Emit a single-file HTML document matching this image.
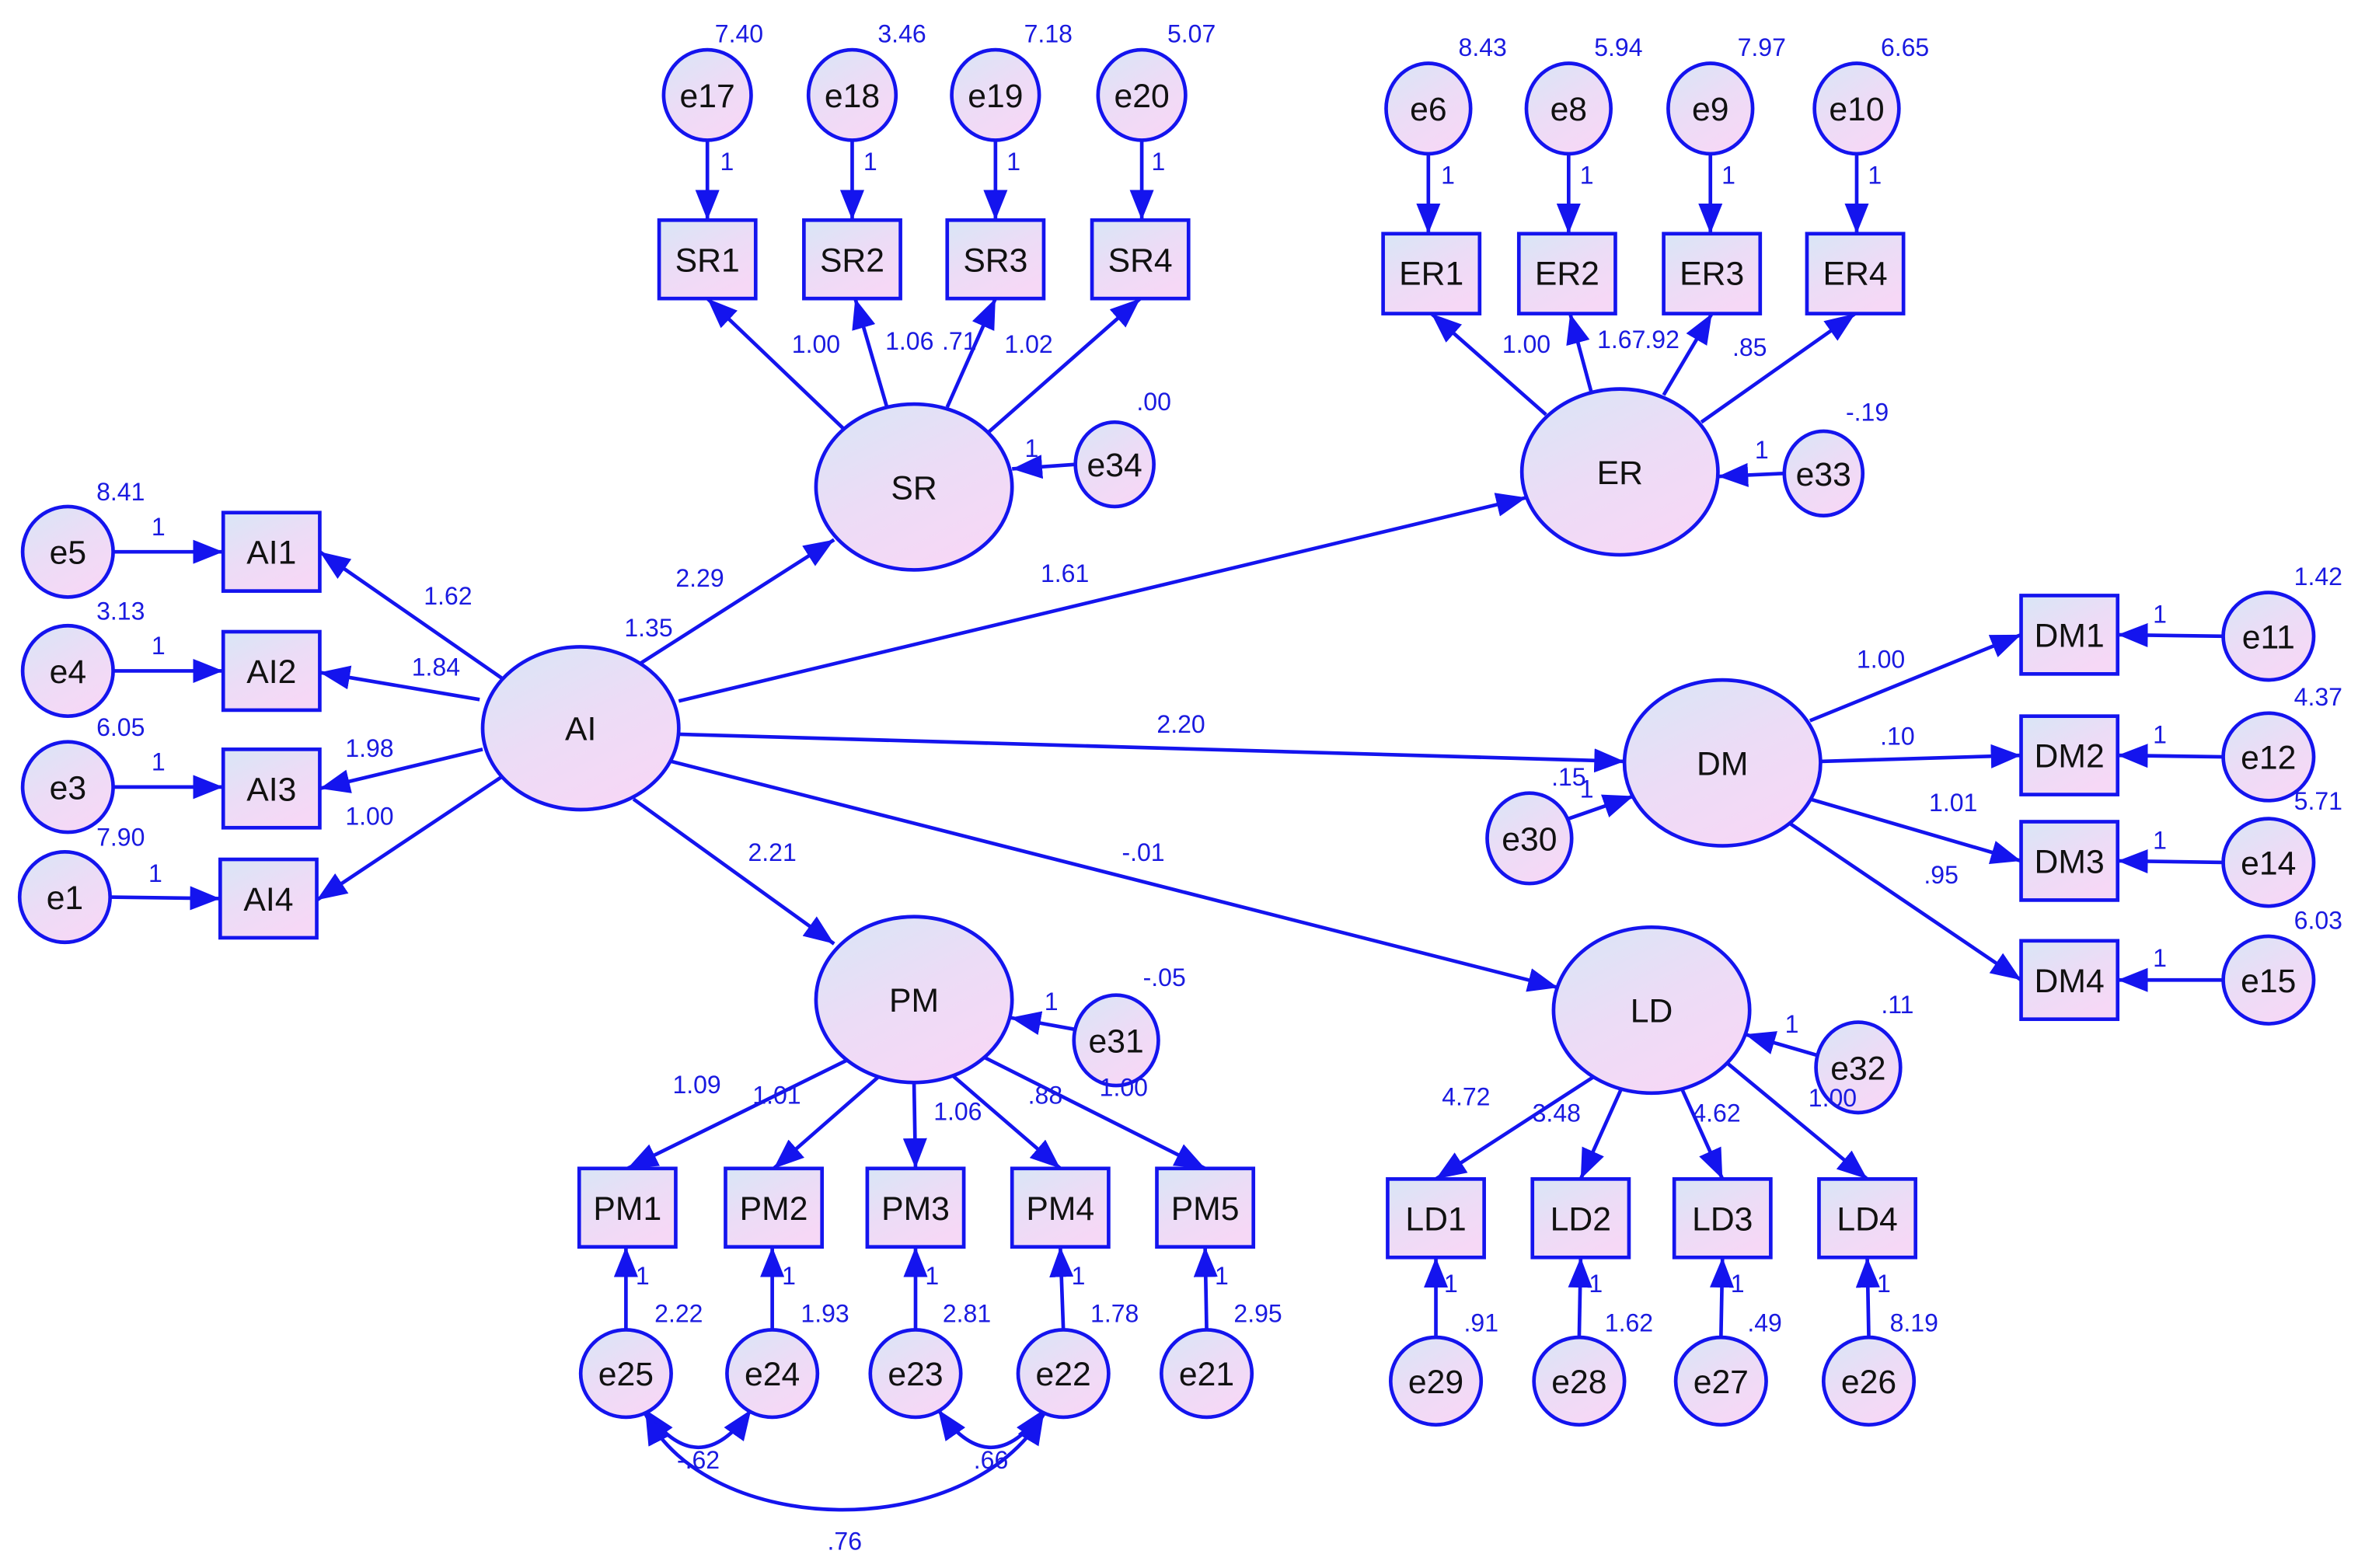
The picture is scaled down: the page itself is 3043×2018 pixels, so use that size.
<!DOCTYPE html>
<html><head><meta charset="utf-8">
<style>
html,body{margin:0;padding:0;background:#fff;}
svg{display:block;}
text{font-family:"Liberation Sans",Arial,sans-serif;}
.n{font-size:22px;fill:#111;text-anchor:middle;}
.v{font-size:16.5px;fill:#1a1ae0;text-anchor:middle;}
.e{stroke:#1414ee;stroke-width:2.4;fill:none;}
.s{stroke:#1414ee;stroke-width:2.4;fill:url(#g);}
</style></head>
<body>
<svg width="3043" height="2018" viewBox="0 0 1568 1040" preserveAspectRatio="none" xmlns="http://www.w3.org/2000/svg">
<defs>
<linearGradient id="g" x1="0" y1="0" x2="0.6" y2="1">
<stop offset="0" stop-color="#d8e6f6"/><stop offset="0.55" stop-color="#ecdcf6"/><stop offset="1" stop-color="#f6d8f6"/>
</linearGradient>
<marker id="a" viewBox="0 0 20 16" refX="20" refY="8" markerWidth="20" markerHeight="16" markerUnits="userSpaceOnUse" orient="auto-start-reverse">
<path d="M0,0 L20,8 L0,16 z" fill="#1414ee"/>
</marker>
</defs>

<!-- edges -->
<g class="e" marker-end="url(#a)">
<line x1="333" y1="450" x2="212" y2="366"/>
<line x1="318" y1="464" x2="212" y2="446"/>
<line x1="320" y1="497" x2="212" y2="523"/>
<line x1="333" y1="515" x2="210" y2="597"/>
<line x1="423" y1="441" x2="553" y2="358"/>
<line x1="450" y1="465" x2="1012" y2="330"/>
<line x1="450" y1="487" x2="1077" y2="505"/>
<line x1="420" y1="530" x2="553" y2="626"/>
<line x1="445" y1="505" x2="1033" y2="655"/>
<line x1="560" y1="285" x2="469" y2="198"/>
<line x1="588" y1="270" x2="567" y2="198"/>
<line x1="628" y1="270" x2="660" y2="198"/>
<line x1="655" y1="287" x2="756" y2="198"/>
<line x1="1025" y1="275" x2="949" y2="208"/>
<line x1="1055" y1="260" x2="1041" y2="208"/>
<line x1="1103" y1="262" x2="1135" y2="208"/>
<line x1="1128" y1="280" x2="1230" y2="208"/>
<line x1="1200" y1="478" x2="1340" y2="421"/>
<line x1="1207" y1="505" x2="1340" y2="501"/>
<line x1="1200" y1="530" x2="1340" y2="571"/>
<line x1="1185" y1="545" x2="1340" y2="650"/>
<line x1="568" y1="700" x2="416" y2="775"/>
<line x1="585" y1="712" x2="513" y2="775"/>
<line x1="606" y1="718" x2="607" y2="775"/>
<line x1="630" y1="712" x2="703" y2="775"/>
<line x1="650" y1="700" x2="799" y2="775"/>
<line x1="1060" y1="712" x2="952" y2="782"/>
<line x1="1075" y1="722" x2="1048" y2="782"/>
<line x1="1115" y1="722" x2="1142" y2="782"/>
<line x1="1145" y1="705" x2="1238" y2="782"/>
<!-- errors -->
<line x1="75" y1="366" x2="148" y2="366"/>
<line x1="75" y1="445" x2="148" y2="445"/>
<line x1="75" y1="522" x2="148" y2="522"/>
<line x1="73" y1="595" x2="146" y2="596"/>
<line x1="469" y1="93" x2="469" y2="146"/>
<line x1="565" y1="93" x2="565" y2="146"/>
<line x1="660" y1="93" x2="660" y2="146"/>
<line x1="757" y1="93" x2="757" y2="146"/>
<line x1="947" y1="102" x2="947" y2="155"/>
<line x1="1040" y1="102" x2="1040" y2="155"/>
<line x1="1134" y1="102" x2="1134" y2="155"/>
<line x1="1231" y1="102" x2="1231" y2="155"/>
<line x1="1474" y1="422" x2="1404" y2="421"/>
<line x1="1474" y1="502" x2="1404" y2="501"/>
<line x1="1474" y1="572" x2="1404" y2="571"/>
<line x1="1474" y1="650" x2="1404" y2="650"/>
<line x1="415" y1="882" x2="415" y2="827"/>
<line x1="512" y1="882" x2="512" y2="827"/>
<line x1="607" y1="882" x2="607" y2="827"/>
<line x1="705" y1="882" x2="703" y2="827"/>
<line x1="800" y1="882" x2="799" y2="827"/>
<line x1="952" y1="887" x2="952" y2="834"/>
<line x1="1047" y1="887" x2="1048" y2="834"/>
<line x1="1141" y1="887" x2="1142" y2="834"/>
<line x1="1239" y1="887" x2="1238" y2="834"/>
<line x1="713" y1="308" x2="671" y2="311"/>
<line x1="1183" y1="314" x2="1139" y2="316"/>
<line x1="1040" y1="543" x2="1083" y2="528"/>
<line x1="714" y1="683" x2="670" y2="675"/>
<line x1="1205" y1="700" x2="1157" y2="686"/>
</g>
<!-- covariances -->
<g class="e" marker-start="url(#a)" marker-end="url(#a)">
<path d="M428,935 Q463,985 498,935"/>
<path d="M622,935 Q657,985 692,935"/>
<path d="M428,938 C470,1020 640,1025 692,938"/>
</g>

<!-- latent ellipses -->
<g class="s">
<ellipse cx="385" cy="483" rx="65" ry="54"/>
<ellipse cx="606" cy="323" rx="65" ry="55"/>
<ellipse cx="1074" cy="313" rx="65" ry="55"/>
<ellipse cx="1142" cy="506" rx="65" ry="55"/>
<ellipse cx="606" cy="663" rx="65" ry="55"/>
<ellipse cx="1095" cy="670" rx="65" ry="55"/>
</g>
<!-- boxes -->
<g class="s">
<rect x="148" y="340" width="64" height="52"/>
<rect x="148" y="419" width="64" height="52"/>
<rect x="148" y="497" width="64" height="52"/>
<rect x="146" y="570" width="64" height="52"/>
<rect x="437" y="146" width="64" height="52"/>
<rect x="533" y="146" width="64" height="52"/>
<rect x="628" y="146" width="64" height="52"/>
<rect x="724" y="146" width="64" height="52"/>
<rect x="917" y="155" width="64" height="53"/>
<rect x="1007" y="155" width="64" height="53"/>
<rect x="1103" y="155" width="64" height="53"/>
<rect x="1198" y="155" width="64" height="53"/>
<rect x="1340" y="395" width="64" height="52"/>
<rect x="1340" y="475" width="64" height="52"/>
<rect x="1340" y="545" width="64" height="52"/>
<rect x="1340" y="624" width="64" height="52"/>
<rect x="384" y="775" width="64" height="52"/>
<rect x="481" y="775" width="64" height="52"/>
<rect x="575" y="775" width="64" height="52"/>
<rect x="671" y="775" width="64" height="52"/>
<rect x="767" y="775" width="64" height="52"/>
<rect x="920" y="782" width="64" height="52"/>
<rect x="1016" y="782" width="64" height="52"/>
<rect x="1110" y="782" width="64" height="52"/>
<rect x="1206" y="782" width="64" height="52"/>
</g>
<!-- error circles -->
<g class="s">
<ellipse cx="469" cy="63" rx="29" ry="30"/><ellipse cx="565" cy="63" rx="29" ry="30"/>
<ellipse cx="660" cy="63" rx="29" ry="30"/><ellipse cx="757" cy="63" rx="29" ry="30"/>
<ellipse cx="947" cy="72" rx="28" ry="30"/><ellipse cx="1040" cy="72" rx="28" ry="30"/>
<ellipse cx="1134" cy="72" rx="28" ry="30"/><ellipse cx="1231" cy="72" rx="28" ry="30"/>
<ellipse cx="45" cy="366" rx="30" ry="30"/><ellipse cx="45" cy="445" rx="30" ry="30"/>
<ellipse cx="45" cy="522" rx="30" ry="30"/><ellipse cx="43" cy="595" rx="30" ry="30"/>
<ellipse cx="739" cy="308" rx="26" ry="28"/><ellipse cx="1209" cy="314" rx="26" ry="28"/>
<ellipse cx="1014" cy="556" rx="28" ry="30"/><ellipse cx="740" cy="690" rx="28" ry="30"/>
<ellipse cx="1232" cy="708" rx="28" ry="30"/>
<ellipse cx="1504" cy="422" rx="30" ry="29"/><ellipse cx="1504" cy="502" rx="30" ry="29"/>
<ellipse cx="1504" cy="572" rx="30" ry="29"/><ellipse cx="1504" cy="650" rx="30" ry="29"/>
<ellipse cx="415" cy="911" rx="30" ry="29"/><ellipse cx="512" cy="911" rx="30" ry="29"/>
<ellipse cx="607" cy="911" rx="30" ry="29"/><ellipse cx="705" cy="911" rx="30" ry="29"/>
<ellipse cx="800" cy="911" rx="30" ry="29"/>
<ellipse cx="952" cy="916" rx="30" ry="29"/><ellipse cx="1047" cy="916" rx="30" ry="29"/>
<ellipse cx="1141" cy="916" rx="30" ry="29"/><ellipse cx="1239" cy="916" rx="30" ry="29"/>
</g>

<!-- node labels -->
<g class="n">
<text x="385" y="491">AI</text><text x="606" y="331">SR</text><text x="1074" y="321">ER</text>
<text x="1142" y="514">DM</text><text x="606" y="671">PM</text><text x="1095" y="678">LD</text>
<text x="180" y="374">AI1</text><text x="180" y="453">AI2</text><text x="180" y="531">AI3</text><text x="178" y="604">AI4</text>
<text x="469" y="180">SR1</text><text x="565" y="180">SR2</text><text x="660" y="180">SR3</text><text x="756" y="180">SR4</text>
<text x="949" y="189">ER1</text><text x="1039" y="189">ER2</text><text x="1135" y="189">ER3</text><text x="1230" y="189">ER4</text>
<text x="1372" y="429">DM1</text><text x="1372" y="509">DM2</text><text x="1372" y="579">DM3</text><text x="1372" y="658">DM4</text>
<text x="416" y="809">PM1</text><text x="513" y="809">PM2</text><text x="607" y="809">PM3</text><text x="703" y="809">PM4</text><text x="799" y="809">PM5</text>
<text x="952" y="816">LD1</text><text x="1048" y="816">LD2</text><text x="1142" y="816">LD3</text><text x="1238" y="816">LD4</text>
<text x="469" y="71">e17</text><text x="565" y="71">e18</text><text x="660" y="71">e19</text><text x="757" y="71">e20</text>
<text x="947" y="80">e6</text><text x="1040" y="80">e8</text><text x="1134" y="80">e9</text><text x="1231" y="80">e10</text>
<text x="45" y="374">e5</text><text x="45" y="453">e4</text><text x="45" y="530">e3</text><text x="43" y="603">e1</text>
<text x="739" y="316">e34</text><text x="1209" y="322">e33</text><text x="1014" y="564">e30</text>
<text x="740" y="698">e31</text><text x="1232" y="716">e32</text>
<text x="1504" y="430">e11</text><text x="1504" y="510">e12</text><text x="1504" y="580">e14</text><text x="1504" y="658">e15</text>
<text x="415" y="919">e25</text><text x="512" y="919">e24</text><text x="607" y="919">e23</text><text x="705" y="919">e22</text><text x="800" y="919">e21</text>
<text x="952" y="924">e29</text><text x="1047" y="924">e28</text><text x="1141" y="924">e27</text><text x="1239" y="924">e26</text>
</g>

<!-- values -->
<g class="v">
<text x="490" y="28">7.40</text><text x="598" y="28">3.46</text><text x="695" y="28">7.18</text><text x="790" y="28">5.07</text>
<text x="983" y="37">8.43</text><text x="1073" y="37">5.94</text><text x="1168" y="37">7.97</text><text x="1263" y="37">6.65</text>
<text x="80" y="332">8.41</text><text x="80" y="411">3.13</text><text x="80" y="488">6.05</text><text x="80" y="561">7.90</text>
<text x="765" y="272">.00</text><text x="1238" y="279">-.19</text>
<text x="1537" y="388">1.42</text><text x="1537" y="468">4.37</text><text x="1537" y="537">5.71</text><text x="1537" y="616">6.03</text>
<text x="1040" y="521">.15</text><text x="772" y="654">-.05</text><text x="1258" y="672">.11</text>
<text x="450" y="877">2.22</text><text x="547" y="877">1.93</text><text x="641" y="877">2.81</text><text x="739" y="877">1.78</text><text x="834" y="877">2.95</text>
<text x="982" y="883">.91</text><text x="1080" y="883">1.62</text><text x="1170" y="883">.49</text><text x="1269" y="883">8.19</text>
<!-- ones -->
<text x="105" y="355">1</text><text x="105" y="434">1</text><text x="105" y="511">1</text><text x="103" y="585">1</text>
<text x="482" y="113">1</text><text x="577" y="113">1</text><text x="672" y="113">1</text><text x="768" y="113">1</text>
<text x="960" y="122">1</text><text x="1052" y="122">1</text><text x="1146" y="122">1</text><text x="1243" y="122">1</text>
<text x="1432" y="413">1</text><text x="1432" y="493">1</text><text x="1432" y="563">1</text><text x="1432" y="641">1</text>
<text x="426" y="852">1</text><text x="523" y="852">1</text><text x="618" y="852">1</text><text x="715" y="852">1</text><text x="810" y="852">1</text>
<text x="962" y="857">1</text><text x="1058" y="857">1</text><text x="1152" y="857">1</text><text x="1249" y="857">1</text>
<text x="684" y="303">1</text><text x="1168" y="304">1</text><text x="1052" y="529">1</text><text x="697" y="670">1</text><text x="1188" y="685">1</text>
<!-- loadings -->
<text x="297" y="401">1.62</text><text x="289" y="448">1.84</text><text x="245" y="502">1.98</text><text x="245" y="547">1.00</text>
<text x="464" y="389">2.29</text><text x="430" y="422">1.35</text><text x="706" y="386">1.61</text><text x="783" y="486">2.20</text>
<text x="512" y="571">2.21</text><text x="758" y="571">-.01</text>
<text x="541" y="234">1.00</text><text x="603" y="232">1.06</text><text x="636" y="232">.71</text><text x="682" y="234">1.02</text>
<text x="1012" y="234">1.00</text><text x="1075" y="231">1.67</text><text x="1102" y="231">.92</text><text x="1160" y="236">.85</text>
<text x="1247" y="443">1.00</text><text x="1258" y="494">.10</text><text x="1295" y="538">1.01</text><text x="1287" y="586">.95</text>
<text x="462" y="725">1.09</text><text x="515" y="732">1.01</text><text x="635" y="743">1.06</text><text x="693" y="732">.88</text><text x="745" y="727">1.00</text>
<text x="972" y="733">4.72</text><text x="1032" y="744">3.48</text><text x="1138" y="744">4.62</text><text x="1215" y="734">1.00</text>
<text x="463" y="974">-.62</text><text x="657" y="974">.66</text><text x="560" y="1028">.76</text>
</g>
</svg>
</body></html>
